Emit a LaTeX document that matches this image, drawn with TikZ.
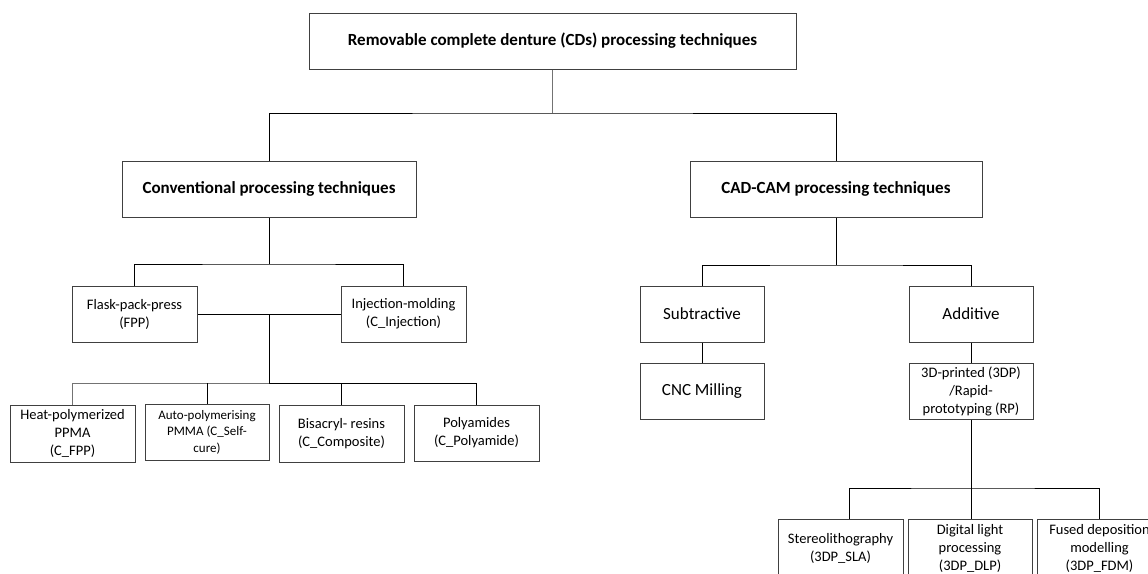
\documentclass[tikz,border=0pt]{standalone}
\usepackage{fontspec}
\setmainfont{Carlito}
\begin{document}
\begin{tikzpicture}[x=1pt,y=-1pt,
  box/.style={draw=black!75, line width=1pt, inner sep=0pt, align=center, fill=white,
    font=\fontsize{14.5}{18}\selectfont},
  headbox/.style={box, font=\fontsize{17}{20}\selectfont\bfseries},
  bigbox/.style={box, font=\fontsize{17}{20}\selectfont},
  smallbox/.style={box, font=\fontsize{13}{16.5}\selectfont},
  conn/.style={draw=black, line width=0.9pt},
  softconn/.style={draw=black!55, line width=0.9pt}]
\useasboundingbox (0,0) rectangle (1148,573);
\clip (0,0) rectangle (1148,573);
\fill[white] (0,0) rectangle (1148,573);

% level 0
\node[headbox, minimum width=487pt, minimum height=56pt] (top) at (552.5,41) {Removable complete denture (CDs) processing techniques};
% level 1
\node[headbox, minimum width=294pt, minimum height=56pt] (conv) at (269,189) {Conventional processing techniques};
\node[headbox, minimum width=292pt, minimum height=56pt] (cad) at (836,189) {CAD-CAM processing techniques};
% conventional branch
\node[box, minimum width=125pt, minimum height=56pt] (flask) at (134.5,314) {Flask-pack-press\\(FPP)};
\node[box, minimum width=125pt, minimum height=56pt] (inj) at (403.5,314) {Injection-molding\\(C\_Injection)};
\node[box, minimum width=125pt, minimum height=57pt] (heat) at (72.5,433.5) {Heat-polymerized\\PPMA\\(C\_FPP)};
\node[smallbox, minimum width=124pt, minimum height=56pt] (auto) at (207,432) {Auto-polymerising\\PMMA (C\_Self-\\cure)};
\node[box, minimum width=125pt, minimum height=57pt] (bis) at (341.5,433.5) {Bisacryl- resins\\(C\_Composite)};
\node[box, minimum width=125pt, minimum height=56pt] (poly) at (476.5,433) {Polyamides\\(C\_Polyamide)};
% CAD-CAM branch
\node[bigbox, minimum width=124pt, minimum height=56pt] (sub) at (702,314) {Subtractive};
\node[bigbox, minimum width=124pt, minimum height=56pt] (add) at (971,314) {Additive};
\node[bigbox, minimum width=124pt, minimum height=56pt] (cnc) at (702,391) {CNC Milling};
\node[box, minimum width=124pt, minimum height=56pt] (tdp) at (971,391) {3D-printed (3DP)\\/Rapid-\\prototyping (RP)};
\node[box, minimum width=125pt, minimum height=58pt] (sla) at (840.5,548) {Stereolithography\\(3DP\_SLA)};
\node[box, minimum width=124pt, minimum height=58pt] (dlp) at (970,548) {Digital light\\processing\\(3DP\_DLP)};
\node[box, minimum width=125pt, minimum height=58pt] (fdm) at (1099.5,548) {Fused deposition\\modelling\\(3DP\_FDM)};

% bus coordinates
\coordinate (b1) at (552.5,113);
\coordinate (b2) at (269,264);
\coordinate (m)  at (269,314);
\coordinate (b3) at (269,383);
\coordinate (b4) at (836,265);
\coordinate (b5) at (971.5,488);
\coordinate (slaTop) at (849,519);

% connectors
\draw[softconn] (top.south) -- (b1);
\draw[conn] (conv.north) |- (b1) -| (cad.north);
\draw[conn] (conv.south) -- (b2);
\draw[conn] (flask.north) |- (b2) -| (inj.north);
\draw[conn] (flask.east) -- (inj.west);
\draw[conn] (m) -- (b3);
\draw[softconn] (heat.north) |- (b3);
\draw[conn] (b3) -| (poly.north);
\draw[conn] (auto.north) -- (auto.north |- b3);
\draw[conn] (bis.north) -- (bis.north |- b3);
\draw[conn] (cad.south) -- (b4);
\draw[conn] (sub.north) |- (b4) -| (add.north);
\draw[conn] (sub.south) -- (cnc.north);
\draw[conn] (add.south) -- (tdp.north);
\draw[conn] (tdp.south -| b5) -- (b5);
\draw[conn] (slaTop) |- (b5) -| (fdm.north);
\draw[conn] (b5) -- (b5 |- dlp.north);
\end{tikzpicture}
\end{document}
